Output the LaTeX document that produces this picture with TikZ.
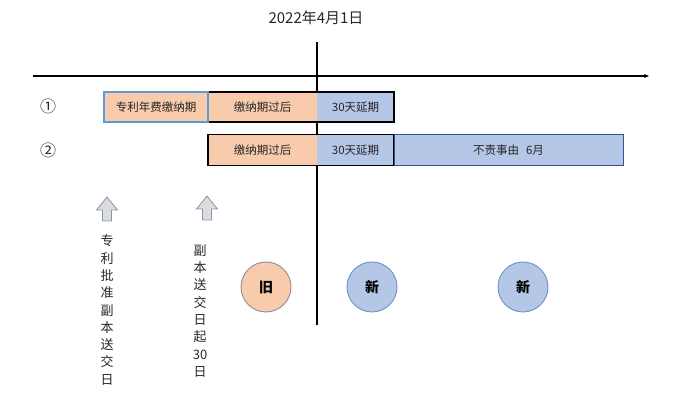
\documentclass[tikz,border=0pt]{standalone}
\usepackage{fontspec}
\newfontfamily\cjk{Noto Sans CJK SC}
\usetikzlibrary{arrows.meta}
\definecolor{peach}{HTML}{F8CBAD}
\definecolor{lblue}{HTML}{B4C7E7}
\definecolor{bordblue}{HTML}{5B9BD5}
\definecolor{darkblue}{HTML}{2F5597}
\definecolor{circblue}{HTML}{6F8FC7}
\definecolor{circgray}{HTML}{8C8C9C}
\definecolor{arrfill}{HTML}{DCDCDC}
\definecolor{arrline}{HTML}{8497B0}
\definecolor{txt}{HTML}{262626}
\tikzset{
  bar/.style={minimum height=30pt, inner sep=0pt, outer sep=0pt, anchor=west,
    text=txt, font=\cjk\fontsize{11.5}{13}\selectfont},
  lbl/.style={font=\cjk\fontsize{16}{18}\selectfont, inner sep=0pt, text=txt},
  vtext/.style={font=\cjk\fontsize{13}{17.3}\selectfont, align=center, inner sep=0pt, text=txt},
  circ/.style={circle, minimum size=50pt, inner sep=0pt, line width=0.9pt,
    font=\cjk\bfseries\fontsize{14}{16}\selectfont},
  blockarrow/.style={fill=arrfill, draw=arrline, line width=0.8pt, line join=miter},
  outline/.style={draw=black, line width=1.4pt}
}
\begin{document}
\begin{tikzpicture}[x=1pt,y=-1pt]
\useasboundingbox (0,0) rectangle (673,403);
% title
\node[font=\cjk\fontsize{15}{17}\selectfont, inner sep=0pt, text=txt] (title) at (316,18) {2022年4月1日};
% axes
\coordinate (tl) at (33,76);
\coordinate (tr) at (649,76);
\draw[line width=1.3pt, -{Stealth[length=5pt,width=4pt]}] (tl) -- (tr);
\coordinate (vt) at (317,42);
\coordinate (vb) at (317,325);
\draw[line width=1.6pt] (vt) -- (vb);
% row labels
\node[lbl] (r1) at (48,106) {①};
\node[lbl] (r2) at (48,150) {②};
% row 1
\node[bar, fill=peach, minimum width=109pt] (b2) at (208,107) {缴纳期过后};
\node[bar, fill=lblue, minimum width=77pt] (b3) at (317,107) {30天延期};
\draw[outline] (b2.north west) -- (b3.north east) -- (b3.south east) -- (b2.south west);
\node[bar, fill=peach, draw=bordblue, line width=1.6pt, minimum width=104pt] (b1) at (104,107) {专利年费缴纳期};
% row 2
\node[bar, fill=peach, minimum width=109pt, minimum height=31pt] (c1) at (208,150) {缴纳期过后};
\node[bar, fill=lblue, minimum width=77pt, minimum height=31pt] (c2) at (317,150) {30天延期};
\draw[outline] (c1.north west) rectangle (c2.south east);
\node[bar, fill=lblue, draw=darkblue, line width=1pt, minimum width=229pt, minimum height=31pt] (c3) at (394,150) {不责事由\hspace{0.6em}6月};
% block arrows
\draw[blockarrow] (107,197) -- (117.5,210) -- (111.5,210) -- (111.5,221) -- (102.5,221) -- (102.5,210) -- (96.5,210) -- cycle;
\draw[blockarrow] (207,196) -- (217.5,209) -- (211.5,209) -- (211.5,220) -- (202.5,220) -- (202.5,209) -- (196.5,209) -- cycle;
% vertical texts
\node[vtext] (v1) at (107,310) {专\\利\\批\\准\\副\\本\\送\\交\\日};
\node[vtext] (v2) at (200,311) {副\\本\\送\\交\\日\\起\\30\\日};
% circles
\node[circ, fill=peach, draw=circgray] (old) at (266,287) {旧};
\node[circ, fill=lblue, draw=circblue] (new1) at (372,287) {新};
\node[circ, fill=lblue, draw=circblue] (new2) at (523,287) {新};
\end{tikzpicture}
\end{document}
